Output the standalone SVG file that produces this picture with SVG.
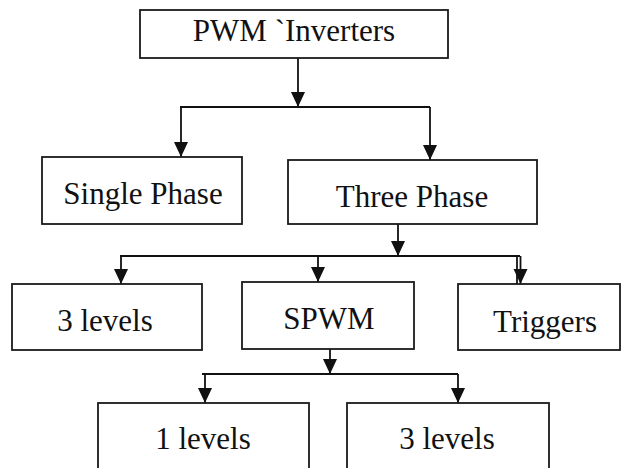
<svg xmlns="http://www.w3.org/2000/svg" width="622" height="468" viewBox="0 0 622 468">
  <defs>
    <style>
      .box { fill: #ffffff; stroke: #1a1a1a; stroke-width: 1.8; }
      .lbl { font-family: "Liberation Serif", "Times New Roman", serif; font-size: 31px; fill: #111111; text-anchor: middle; }
      .wire { stroke: #111111; stroke-width: 1.8; fill: none; }
    </style>
    <marker id="arrow" markerUnits="userSpaceOnUse" markerWidth="16" markerHeight="16" viewBox="0 0 16 16" refX="15" refY="7" orient="auto">
      <path d="M0,0 L15,7 L0,14 Z" fill="#111111"/>
    </marker>
  </defs>

  <rect width="622" height="468" fill="#ffffff"/>

  <!-- connectors -->
  <g id="connectors">
    <!-- PWM Inverters to phase types -->
    <line class="wire" x1="298" y1="58" x2="298" y2="107" marker-end="url(#arrow)"/>
    <line class="wire" x1="180" y1="107" x2="430" y2="107"/>
    <line class="wire" x1="181" y1="107" x2="181" y2="157" marker-end="url(#arrow)"/>
    <line class="wire" x1="430" y1="107" x2="430" y2="160" marker-end="url(#arrow)"/>

    <!-- Three Phase to its branches -->
    <line class="wire" x1="398" y1="224" x2="398" y2="256" marker-end="url(#arrow)"/>
    <line class="wire" x1="120" y1="256" x2="520" y2="256"/>
    <line class="wire" x1="121" y1="256" x2="121" y2="284" marker-end="url(#arrow)"/>
    <line class="wire" x1="318" y1="256" x2="318" y2="282" marker-end="url(#arrow)"/>
    <line class="wire" x1="517" y1="256" x2="517" y2="284"/>
    <line class="wire" x1="520.5" y1="256" x2="520.5" y2="284" marker-end="url(#arrow)"/>

    <!-- SPWM to level variants -->
    <line class="wire" x1="330" y1="349" x2="330" y2="374" marker-end="url(#arrow)"/>
    <line class="wire" x1="202" y1="374" x2="458" y2="374"/>
    <line class="wire" x1="205" y1="374" x2="205" y2="403" marker-end="url(#arrow)"/>
    <line class="wire" x1="458" y1="374" x2="458" y2="403" marker-end="url(#arrow)"/>
  </g>

  <g id="pwm-inverters">
    <rect class="box" x="140" y="10" width="308" height="48"/>
    <text class="lbl" x="294" y="41">PWM `Inverters</text>
  </g>

  <g id="single-phase">
    <rect class="box" x="42" y="157" width="200" height="67"/>
    <text class="lbl" x="143" y="204">Single Phase</text>
  </g>

  <g id="three-phase">
    <rect class="box" x="288" y="160" width="249" height="64"/>
    <text class="lbl" x="412" y="207">Three Phase</text>
  </g>

  <g id="three-levels-a">
    <rect class="box" x="12" y="284" width="190" height="66"/>
    <text class="lbl" x="105" y="331">3 levels</text>
  </g>

  <g id="spwm">
    <rect class="box" x="242" y="282" width="172" height="67"/>
    <text class="lbl" x="329" y="329">SPWM</text>
  </g>

  <g id="triggers">
    <rect class="box" x="458" y="284" width="162" height="66"/>
    <text class="lbl" x="545" y="332">Triggers</text>
  </g>

  <g id="one-level">
    <rect class="box" x="98" y="403" width="211" height="70"/>
    <text class="lbl" x="203" y="449">1 levels</text>
  </g>

  <g id="three-levels-b">
    <rect class="box" x="347" y="403" width="202" height="70"/>
    <text class="lbl" x="447" y="449">3 levels</text>
  </g>
</svg>
